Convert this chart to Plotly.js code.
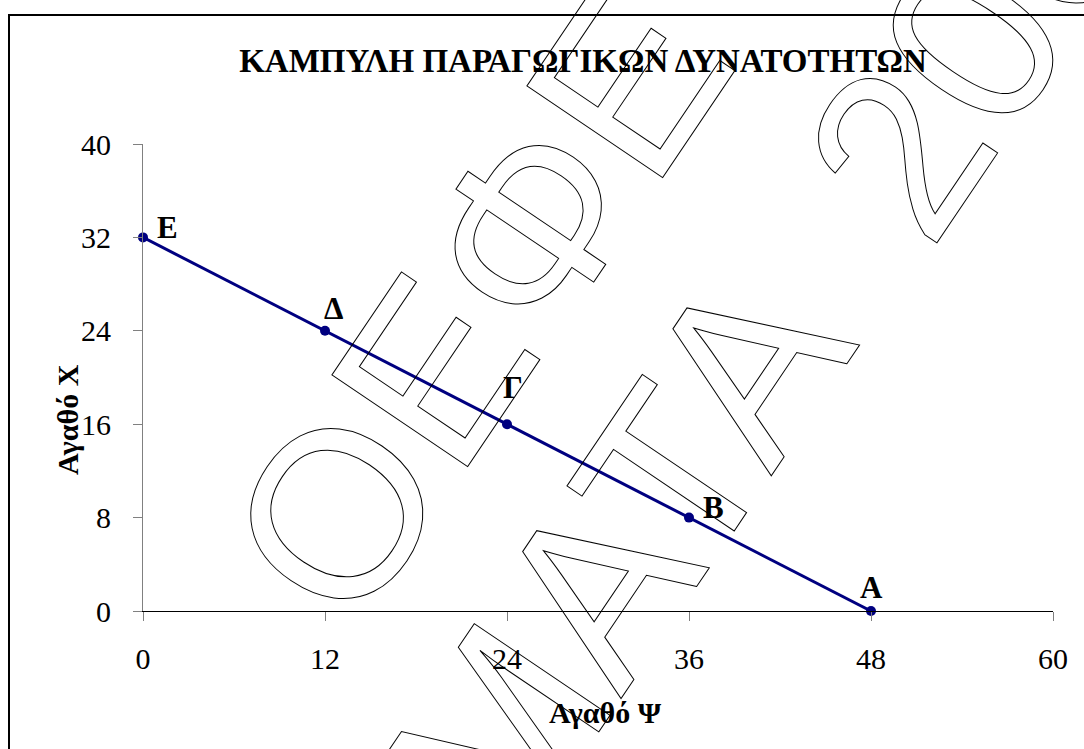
<!DOCTYPE html>
<html>
<head>
<meta charset="utf-8">
<script src="https://cdn.plot.ly/plotly-3.0.1.min.js"></script>
<style>
html,body{margin:0;padding:0;background:#fff;}
#chart{width:1084px;height:749px;}
g.annotation.wm text{fill:none !important;stroke:#000;stroke-width:1px;}
</style>
</head>
<body>
<div id="chart"></div>
<script>
// ---- data ----
const goodPsi = [48, 36, 24, 12, 0];      // Αγαθό Ψ (x)
const goodChi = [0, 8, 16, 24, 32];       // Αγαθό Χ (y)
const pointLabels = ['Α', 'Β', 'Γ', 'Δ', 'Ε'];
const xTickVals = [0, 12, 24, 36, 48, 60];
const yTickVals = [0, 8, 16, 24, 32, 40];
const chartTitle = 'ΚΑΜΠΥΛΗ ΠΑΡΑΓΩΓΙΚΩΝ ΔΥΝΑΤΟΤΗΤΩΝ';
const xTitleText = 'Αγαθό Ψ';
const yTitleText = 'Αγαθό Χ';
const watermarkTexts = ['ΟΕΦΕ', 'ΘΕΜΑΤΑ', '2008'];

// ---- layout helpers (decoration placement only) ----
const W = 1084, H = 749;
const M = {l: 143, r: 31, t: 144, b: 138};
const PW = W - M.l - M.r, PH = H - M.t - M.b;
const px = v => (v - M.l) / PW;
const py = v => (H - M.b - v) / PH;

const labelShift = [[0, 24], [24, 10], [6, 37], [8, 22], [24, 10]];
const wmPos = [[478, 303], [520, 700], [1010, -12]];

const serif = '"Liberation Serif", "Times New Roman", serif';

const trace = {
  x: goodPsi,
  y: goodChi,
  type: 'scatter',
  mode: 'lines+markers',
  line: {color: '#000080', width: 3},
  marker: {color: '#000080', size: 10},
  hoverinfo: 'x+y',
  cliponaxis: false
};

const annotations = [];
pointLabels.forEach((t, i) => {
  annotations.push({
    x: goodPsi[i], y: goodChi[i], xref: 'x', yref: 'y',
    text: t, showarrow: false, xanchor: 'center', yanchor: 'middle',
    xshift: labelShift[i][0], yshift: labelShift[i][1],
    font: {family: serif, size: 31, color: '#000', weight: 'bold'}
  });
});
annotations.push({
  x: px(605), y: py(712), xref: 'paper', yref: 'paper',
  text: xTitleText, showarrow: false, xanchor: 'center', yanchor: 'middle',
  font: {family: serif, size: 30, color: '#000', weight: 'bold'}
});
annotations.push({
  x: px(67), y: py(420), xref: 'paper', yref: 'paper',
  text: yTitleText, showarrow: false, xanchor: 'center', yanchor: 'middle',
  textangle: -90,
  font: {family: serif, size: 30, color: '#000', weight: 'bold'}
});
const wmStart = annotations.length;
watermarkTexts.forEach((t, i) => {
  annotations.push({
    x: px(wmPos[i][0]), y: py(wmPos[i][1]), xref: 'paper', yref: 'paper',
    text: t, showarrow: false, xanchor: 'center', yanchor: 'middle',
    textangle: -56,
    font: {family: '"Liberation Sans", Arial, sans-serif', size: 238, color: '#ffffff'}
  });
});

const layout = {
  width: W, height: H,
  margin: M,
  paper_bgcolor: '#fff', plot_bgcolor: '#fff',
  showlegend: false,
  title: {
    text: chartTitle,
    xref: 'container', yref: 'container',
    x: 583 / W, y: 1 - 60 / H, xanchor: 'center', yanchor: 'middle',
    font: {family: serif, size: 33, color: '#000', weight: 'bold'}
  },
  xaxis: {
    range: [0, 60], tickvals: xTickVals, ticktext: xTickVals.map(String),
    showgrid: false, zeroline: false,
    showline: true, linecolor: '#000', linewidth: 1,
    ticks: 'outside', ticklen: 9, tickcolor: '#808080', tickwidth: 1,
    ticklabelstandoff: 12,
    tickfont: {family: serif, size: 30, color: '#000'},
    fixedrange: true
  },
  yaxis: {
    range: [0, 40], tickvals: yTickVals, ticktext: yTickVals.map(String),
    showgrid: false, zeroline: false,
    showline: true, linecolor: '#808080', linewidth: 1,
    ticks: 'outside', ticklen: 9, tickcolor: '#808080', tickwidth: 1,
    ticklabelstandoff: 16,
    tickfont: {family: serif, size: 30, color: '#000'},
    fixedrange: true
  },
  shapes: [{
    type: 'rect', xref: 'paper', yref: 'paper', layer: 'below',
    x0: px(9), x1: px(1110), y0: py(15), y1: py(780),
    line: {color: '#000', width: 2}, fillcolor: 'rgba(0,0,0,0)'
  }],
  annotations: annotations
};

Plotly.newPlot('chart', [trace], layout, {displayModeBar: false, staticPlot: true}).then(() => {
  document.querySelectorAll('g.annotation').forEach(g => {
    const idx = parseInt(g.getAttribute('data-index'), 10);
    if (idx >= wmStart) g.classList.add('wm');
  });
});
</script>
</body>
</html>
